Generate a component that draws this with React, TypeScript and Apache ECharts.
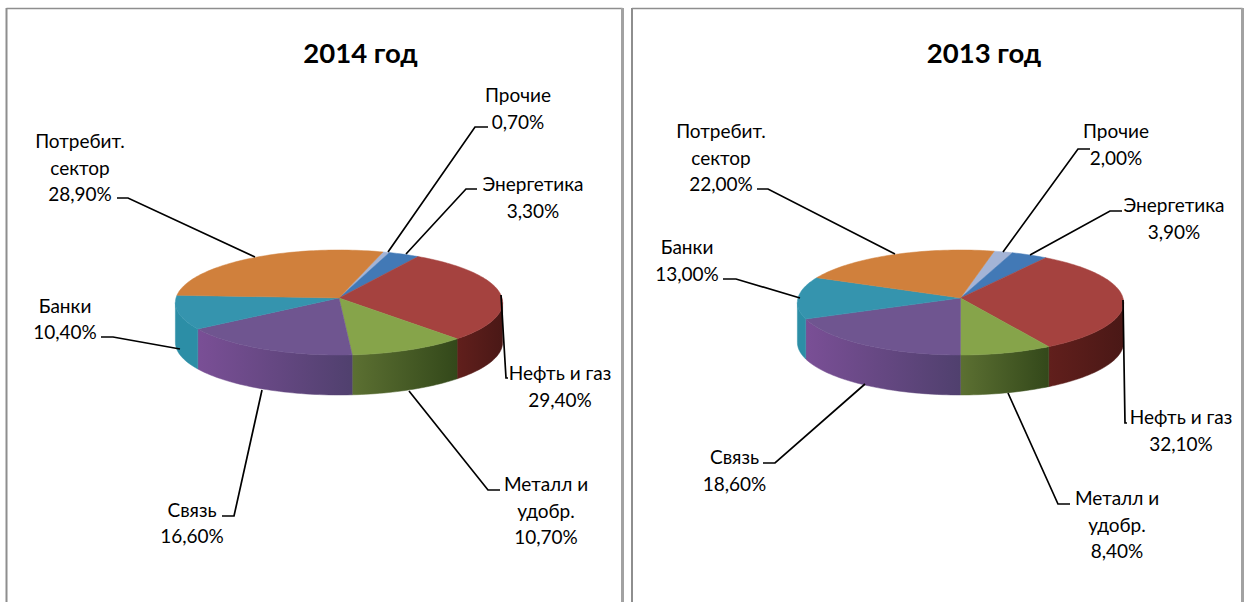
import React, { useEffect, useRef } from "react";
import * as echarts from "echarts";

// Data, clockwise from the first slice
const categories = ["Прочие", "Энергетика", "Нефть и газ", "Металл и\nудобр.", "Связь", "Банки", "Потребит.\nсектор"];
const values2014 = [0.7, 3.3, 29.4, 10.7, 16.6, 10.4, 28.9];
const values2013 = [2.0, 3.9, 32.1, 8.4, 18.6, 13.0, 22.0];
const titles = ["2014 год", "2013 год"];

// Styles
const topColors = ["#a4b4d6", "#4279b6", "#a5423f", "#86a44a", "#6f5590", "#3594ae", "#d0803c"];
const wallColors: [string, string][] = [
  ["#7c8aa8", "#7c8aa8"], ["#2c5480", "#2c5480"], ["#611f1c", "#4a1816"], ["#5c7032", "#33481a"],
  ["#7a4f96", "#50406e"], ["#2c8ea6", "#2c8ea6"], ["#8a5520", "#8a5520"],
];

// Layout of each pie
const perspective = 0.0857;
const silhouette = (Math.asin(perspective) * 180) / Math.PI;
const pies = [
  {
    values: values2014, cx: 339, cy: 298, rx: 163, ry: 52.1, depth: 40, start: 17,
    labelPos: [[518, 108], [533, 197], [560, 386], [546, 510], [192, 522.5], [65, 318.5], [80, 167]],
    leaders: [
      [[388, 252], [475, 127], [488, 127]],
      [[406, 254], [466, 189], [477, 189]],
      [[501, 295], [506, 378], [508, 378]],
      [[409, 391], [488, 490], [500, 490]],
      [[262, 390], [234, 516], [222, 516]],
      [[180, 349], [113, 337], [101, 337]],
      [[255, 257], [128, 198], [117, 198]],
    ],
  },
  {
    values: values2013, cx: 960.5, cy: 298, rx: 162.5, ry: 52.1, depth: 40, start: 13,
    labelPos: [[1116, 144], [1174, 218], [1181, 430], [1117, 524], [734.5, 470], [687, 260], [721, 157]],
    leaders: [
      [[1003, 252], [1078, 149], [1090, 149]],
      [[1030, 255], [1110, 211], [1122, 211]],
      [[1123, 300], [1125, 423], [1127, 423]],
      [[1008, 393], [1058, 504], [1070, 504]],
      [[865, 384], [775, 463], [763, 463]],
      [[800, 298], [736, 279], [723, 279]],
      [[895, 254], [768, 189], [757, 189]],
    ],
  },
];
const titleCenters = [355.5, 979];

type Pie = (typeof pies)[number];

function ranges(p: Pie) {
  const total = p.values.reduce((a, b) => a + b, 0);
  let acc = p.start;
  return p.values.map((v) => {
    const a0 = acc;
    acc += (v / total) * 360;
    return [a0, acc];
  });
}
// Angle clockwise from the back of the pie, projected with a little perspective
function rim(p: Pie, deg: number, dy = 0) {
  const r = (deg * Math.PI) / 180;
  const front = -Math.cos(r);
  const s = 1 / (1 - perspective * front);
  return [p.cx + p.rx * Math.sin(r) * s, p.cy + p.ry * front * s + dy];
}
function arcPts(p: Pie, a0: number, a1: number, dy = 0) {
  const n = Math.max(2, Math.ceil((a1 - a0) / 1.5));
  const out: number[][] = [];
  for (let i = 0; i <= n; i++) out.push(rim(p, a0 + ((a1 - a0) * i) / n, dy));
  return out;
}

function wallSeries(p: Pie) {
  const rs = ranges(p);
  return {
    type: "custom", coordinateSystem: "none", silent: true, z: 2,
    data: p.values,
    renderItem: (params: any) => {
      const i = params.dataIndex;
      const a0 = Math.max(rs[i][0], 90 + silhouette);
      const a1 = Math.min(rs[i][1], 270 - silhouette);
      if (a1 <= a0) return { type: "group", children: [] };
      const pts = [...arcPts(p, a0, a1), ...arcPts(p, a0, a1, p.depth).reverse()];
      const fill = new echarts.graphic.LinearGradient(0, 0, 1, 0, [
        { offset: 0, color: wallColors[i][0] },
        { offset: 1, color: wallColors[i][1] },
      ]);
      return { type: "polygon", shape: { points: pts }, style: { fill, stroke: fill, lineWidth: 0.5 } };
    },
  };
}
function topSeries(p: Pie) {
  const rs = ranges(p);
  return {
    type: "custom", coordinateSystem: "none", silent: true, z: 3,
    data: p.values,
    renderItem: (params: any) => {
      const i = params.dataIndex;
      const pts = [[p.cx, p.cy], ...arcPts(p, rs[i][0], rs[i][1])];
      return {
        type: "polygon", shape: { points: pts },
        style: { fill: topColors[i], stroke: topColors[i], lineWidth: 0.5 },
      };
    },
  };
}
function labelSeries(p: Pie) {
  return {
    type: "custom", coordinateSystem: "none", silent: true, z: 4,
    data: p.values,
    renderItem: (params: any, api: any) => {
      const i = params.dataIndex;
      const text = `${categories[i]}\n${api.value(0).toFixed(2).replace(".", ",")}%`;
      return {
        type: "group",
        children: [
          { type: "polyline", shape: { points: p.leaders[i] }, style: { stroke: "#000", lineWidth: 1.7, fill: "none" } },
          {
            type: "text", x: p.labelPos[i][0], y: p.labelPos[i][1],
            style: {
              text, fill: "#000", font: '19px Lato', lineHeight: 26.5,
              align: "center", verticalAlign: "middle", textAlign: "center", textVerticalAlign: "middle",
            },
          },
        ],
      };
    },
  };
}

export default function App() {
  const ref = useRef<HTMLDivElement>(null);
  useEffect(() => {
    const chart = echarts.init(ref.current!, undefined, { renderer: "svg" });
    const frame = (l: number, r: number) => [
      { type: "line", shape: { x1: l, y1: 8.5, x2: r, y2: 8.5 }, style: { stroke: "#8e8e8e", lineWidth: 1.5 } },
      { type: "line", shape: { x1: l, y1: 8, x2: l, y2: 602 }, style: { stroke: "#8e8e8e", lineWidth: 2 } },
      { type: "line", shape: { x1: r, y1: 8, x2: r, y2: 602 }, style: { stroke: "#a2a2a2", lineWidth: 3 } },
    ];
    chart.setOption({
      animation: false,
      backgroundColor: "#fff",
      title: titles.map((t, i) => ({
        text: t, left: titleCenters[i], top: 33, textAlign: "center",
        textStyle: { fontFamily: "Lato", fontWeight: "bold", fontSize: 27.5, color: "#000" },
      })),
      graphic: [...frame(6.5, 622.5), ...frame(632, 1242.5)],
      series: pies.flatMap((p) => [wallSeries(p), topSeries(p), labelSeries(p)]),
    });
    return () => chart.dispose();
  }, []);
  return <div ref={ref} style={{ position: "absolute", left: 0, top: 0, width: 1246, height: 602 }} />;
}
